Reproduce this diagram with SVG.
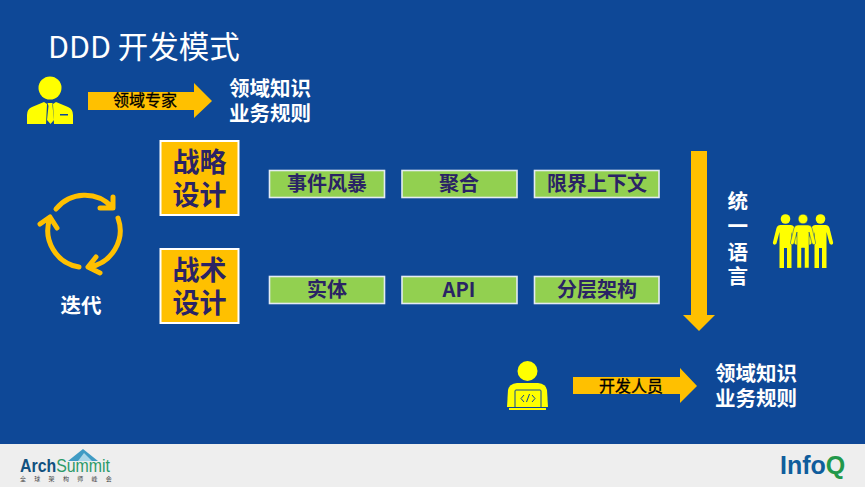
<svg xmlns="http://www.w3.org/2000/svg" width="865" height="487" viewBox="0 0 865 487">
<defs>
<style>
text{font-family:"Noto Sans CJK SC","Noto Sans","Liberation Sans",sans-serif}
.w{fill:#fff;font-weight:700;font-size:20.500px}
.d{fill:#2a2365;font-weight:700;text-anchor:middle}
.g{fill:#92d050;stroke:#e4ebf3;stroke-width:1.6}
.o{fill:#ffc000;stroke:#fff;stroke-width:2}
.a{fill:#ffc000}
.y{fill:#ff0}
.b{fill:#000;font-size:16px;text-anchor:middle;stroke:#000;stroke-width:.3}
.c{fill:none;stroke:#ffc000;stroke-width:5;stroke-linecap:round;stroke-linejoin:round}
.l{font-family:"Liberation Sans",sans-serif}
</style>
<g id="p"><circle cx="0" cy="0" r="4.800"/><path d="M-5 6H5Q8 6 9 9L12.500 23Q13 25 11.500 25.500T9 24.500L6 13V49H1.500V29H-1.500V49H-6V13L-9 24.500Q-10 26-11.500 25.500T-12.500 23L-9 9Q-8 6-5 6z"/></g>
</defs>
<rect width="865" height="487" fill="#0e4897"/>
<g id="footer"><rect y="444" width="865" height="43" fill="#eeeeee"/>
<text class="l" x="20" y="472" font-size="18" textLength="90" lengthAdjust="spacingAndGlyphs"><tspan font-weight="700" fill="#12517f">Arch</tspan><tspan fill="#2b9a68">Summit</tspan></text>
<path d="M68 461 83 449 98 461z" fill="#3f9bc4"/><path d="M78 461 84 453 92 461z" fill="#a9d6e8"/>
<text x="20" y="481" font-size="6" fill="#444" letter-spacing="8.300">全球架构师峰会</text>
<text class="l" x="780" y="474" font-size="25" font-weight="700"><tspan fill="#0f5d9c">Info</tspan><tspan fill="#22984a">Q</tspan></text>
</g>
<text id="title" x="48" y="58" font-size="30.500" fill="#fff">DDD 开发模式</text>
<g id="expert" class="y"><circle cx="50" cy="88" r="11.500"/><path d="M44 102l-12 5q-5 2-5 8v9h19l1-20zM56 102l12 5q5 2 5 8v9h-19l-1-20z"/><path d="M47.500 103h5v3l1.500 14-3.500 4-3.500-4 1.500-14z"/><rect x="60" y="114" width="8" height="1.500" fill="#0e4897"/></g>
<g id="connectors">
<path class="a" d="M88 92h106v-9l18 18-18 17v-8H88z"/>
<path class="a" d="M573 377h107v-9l17 18-17 17v-9H573z"/>
<path class="a" d="M691 151h16v164h8l-16 16-16-16h8z"/>
<g id="cycle"><path class="c" d="M56 209A37 37 0 0 1 112 207M113 197l0 11-13 0"/><path class="c" d="M118 218A37 37 0 0 1 89 267M96 257l-8 10 12 6"/><path class="c" d="M79 267A37 37 0 0 1 50 218M40 224l10-7 7 11"/></g>
</g>
<g id="expert-label"><text class="b" x="145" y="106">领域专家</text><text class="w" x="229" y="96">领域知识</text><text class="w" x="229" y="121">业务规则</text></g>
<g id="strategic"><rect class="o" x="160.500" y="141" width="78" height="74"/><text class="d" font-size="27" x="199.500" y="172">战略</text><text class="d" font-size="27" x="199.500" y="205">设计</text></g>
<g id="tactical"><rect class="o" x="160.500" y="249" width="78" height="74"/><text class="d" font-size="27" x="199.500" y="280">战术</text><text class="d" font-size="27" x="199.500" y="313">设计</text></g>
<g id="n1"><rect class="g" x="269.500" y="170.500" width="115" height="27"/><text class="d" font-size="20" x="327" y="191">事件风暴</text></g>
<g id="n2"><rect class="g" x="402" y="170.500" width="115" height="27"/><text class="d" font-size="20" x="459" y="191">聚合</text></g>
<g id="n3"><rect class="g" x="534.500" y="170.500" width="124.500" height="27"/><text class="d" font-size="20" x="597" y="191">限界上下文</text></g>
<g id="n4"><rect class="g" x="269.500" y="276.500" width="115" height="27"/><text class="d" font-size="20" x="327" y="297">实体</text></g>
<g id="n5"><rect class="g" x="402" y="276.500" width="115" height="27"/><text class="d" font-size="20" x="459" y="297">API</text></g>
<g id="n6"><rect class="g" x="534.500" y="276.500" width="124.500" height="27"/><text class="d" font-size="20" x="597" y="297">分层架构</text></g>
<text id="iter" class="w" x="60.500" y="313">迭代</text>
<g id="lang" class="w"><text x="727.500" y="209">统</text><text x="727.500" y="234">一</text><text x="727.500" y="260">语</text><text x="727.500" y="284">言</text></g>
<g id="team" class="y"><use href="#p" x="785.500" y="219"/><use href="#p" x="820.500" y="219"/><use href="#p" x="803" y="219" stroke="#0e4897" stroke-width=".5"/></g>
<g id="dev" class="y"><circle cx="527.500" cy="371" r="10"/><path d="M517 383h21q8 1 9 7l1 17h-41l1-17q1-6 9-7z"/><rect x="509" y="408" width="37" height="2"/><path d="M515 407V391q0-1 1-1h24q1 0 1 1v16" fill="none" stroke="#0e4897" stroke-width="1"/><path d="M524 395l-3 3.500 3 3.500M532 395l3 3.500-3 3.500M529.500 394l-3 8" fill="none" stroke="#0e4897" stroke-width="1"/></g>
<g id="dev-label"><text class="b" x="631" y="392">开发人员</text><text class="w" x="715" y="381">领域知识</text><text class="w" x="715" y="406">业务规则</text></g>
</svg>
